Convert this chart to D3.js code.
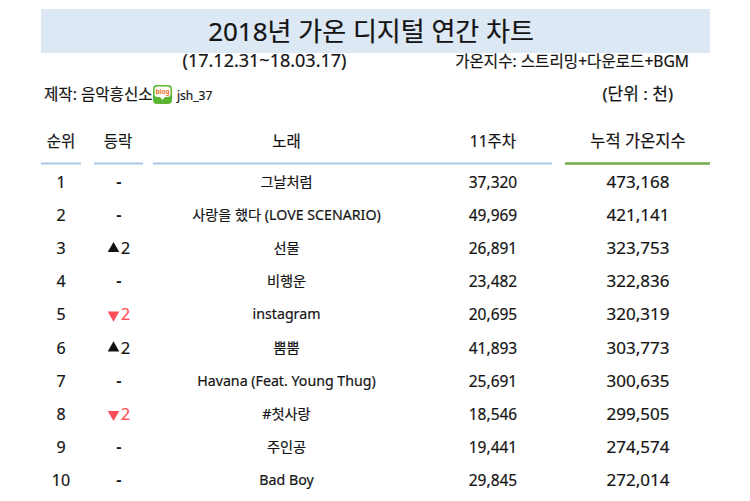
<!DOCTYPE html>
<html>
<head>
<meta charset="utf-8">
<script src="https://cdn.jsdelivr.net/npm/d3@7"></script>
<style>
  html, body { margin: 0; padding: 0; background: #fff; }
  svg { display: block; }
  text { font-family: "Noto Sans", "Noto Sans CJK KR", sans-serif; fill: #141414; stroke: #141414; stroke-width: 0.2px; }
</style>
</head>
<body>
<svg id="chart" width="750" height="501"></svg>
<script>
// chart data
var ranks = [1, 2, 3, 4, 5, 6, 7, 8, 9, 10]
var changes = [0, 0, 2, 0, -2, 2, 0, -2, 0, 0]
var songs = ["그날처럼", "사랑을 했다 (LOVE SCENARIO)", "선물", "비행운", "instagram",
  "뿜뿜", "Havana (Feat. Young Thug)", "#첫사랑", "주인공", "Bad Boy"]
var week11 = [37320, 49969, 26891, 23482, 20695, 41893, 25691, 18546, 19441, 29845]
var totals = [473168, 421141, 323753, 322836, 320319, 303773, 300635, 299505, 274574, 272014]
var headers = ["순위", "등락", "노래", "11주차", "누적 가온지수"]

var svg = d3.select("#chart")
var fmt = d3.format(",")

// rows sit on a band scale, column centres on an ordinal of header names
var y = d3.scaleBand().domain(ranks).range([165.5, 496.5])
var col = d3.scaleOrdinal().domain(headers).range([61, 118, 286.5, 493, 638])

// title band
svg.append("rect").attr("x", 41).attr("y", 9).attr("width", 669).attr("height", 44).attr("fill", "#dce9f5")
svg.append("text").attr("x", 371).attr("y", 41).attr("text-anchor", "middle")
  .style("font-size", "26px").text("2018년 가온 디지털 연간 차트")

svg.append("text").attr("x", 264.5).attr("y", 67).attr("text-anchor", "middle")
  .style("font-size", "18px").text("(17.12.31~18.03.17)")
svg.append("text").attr("x", 689).attr("y", 67).attr("text-anchor", "end")
  .style("font-size", "15.6px").text("가온지수: 스트리밍+다운로드+BGM")
svg.append("text").attr("x", 44).attr("y", 100)
  .style("font-size", "15.6px").text("제작: 음악흥신소")
svg.append("text").attr("x", 177).attr("y", 100)
  .style("font-size", "12px").text("jsh_37")
svg.append("text").attr("x", 673).attr("y", 100).attr("text-anchor", "end")
  .style("font-size", "17px").text("(단위 : 천)")

// blog badge next to the credit
var badge = svg.append("g").attr("transform", "translate(153,85)")
badge.append("rect").attr("width", 19).attr("height", 19).attr("rx", 4).attr("fill", "#5bb531")
badge.append("rect").attr("x", 1.5).attr("y", 1.5).attr("width", 16).attr("height", 10.5).attr("rx", 3).attr("fill", "#fff")
badge.append("path").attr("d", d3.line()([[7, 12], [12, 12], [9.5, 15]])).attr("fill", "#fff")
badge.append("text").attr("x", 9.5).attr("y", 9).attr("text-anchor", "middle")
  .style("font-size", "6.5px").style("font-weight", 700).style("fill", "#f0742a").style("stroke", "none").text("blog")

// column headers and rules
svg.selectAll(".head").data(headers).enter().append("text")
  .attr("class", "head")
  .attr("x", function(d) { return col(d) })
  .attr("y", 147)
  .attr("text-anchor", "middle")
  .style("font-size", function(d, i) { return i == 4 ? "16.5px" : "15.5px" })
  .text(function(d) { return d })

// rule spans [x1, x2, colour]
var rules = [[41, 81, "#a9c8e8"], [94, 143, "#a9c8e8"], [153, 552, "#a9c8e8"], [565, 710, "#70ad47"]]
svg.selectAll(".rule").data(rules).enter().append("line")
  .attr("class", "rule")
  .attr("x1", function(d) { return d[0] })
  .attr("x2", function(d) { return d[1] })
  .attr("y1", 163.5)
  .attr("y2", 163.5)
  .attr("stroke", function(d) { return d[2] })
  .attr("stroke-width", function(d, i) { return i == 3 ? 2.5 : 2 })

// table rows
var rows = svg.selectAll(".row").data(ranks).enter().append("g")
  .attr("class", "row")
  .attr("transform", function(d) { return "translate(0," + (y(d) + y.bandwidth() / 2) + ")" })

rows.append("text")
  .attr("x", col(headers[0]))
  .attr("y", 6)
  .attr("text-anchor", "middle")
  .style("font-size", "16px")
  .text(function(d) { return d })

var upColor = "#111", downColor = "#ff4d5a"
var tri = d3.symbol().type(d3.symbolTriangle).size(58)

rows.each(function(d, i) {
  var g = d3.select(this), c = changes[i], cx = col(headers[1])
  if (c == 0) {
    g.append("text").attr("x", cx + 1).attr("y", 5).attr("text-anchor", "middle")
      .style("font-size", "15px").style("font-weight", 700).text("-")
    return
  }
  var color = c > 0 ? upColor : downColor
  g.append("path").attr("d", tri)
    .attr("transform", "translate(" + (cx - 4.5) + ",0.5)" + (c < 0 ? " rotate(180)" : ""))
    .attr("fill", color)
  g.append("text").attr("x", cx + 3).attr("y", 6)
    .style("font-size", "16px").style("fill", color).style("stroke", color).text(Math.abs(c))
})

rows.append("text")
  .attr("x", col(headers[2]))
  .attr("y", 5)
  .attr("text-anchor", "middle")
  .style("font-size", "14.2px")
  .text(function(d, i) { return songs[i] })

rows.append("text")
  .attr("x", col(headers[3]))
  .attr("y", 6)
  .attr("text-anchor", "middle")
  .style("font-size", "15.5px")
  .text(function(d, i) { return fmt(week11[i]) })

rows.append("text")
  .attr("x", col(headers[4]))
  .attr("y", 6)
  .attr("text-anchor", "middle")
  .style("font-size", "17px")
  .text(function(d, i) { return fmt(totals[i]) })
</script>
</body>
</html>
